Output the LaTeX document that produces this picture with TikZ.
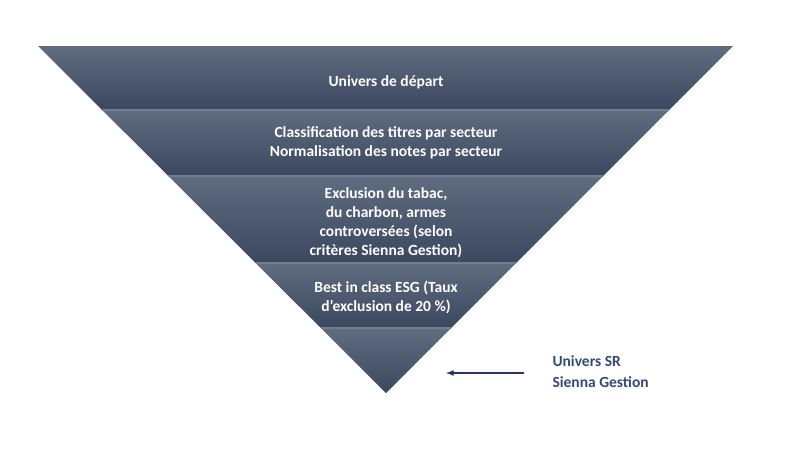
\documentclass[tikz,border=0pt]{standalone}
\usepackage{fontspec}
\setmainfont{Carlito}
\definecolor{bandtop}{HTML}{606C7F}
\definecolor{bandbot}{HTML}{3A475F}
\definecolor{bandline}{HTML}{737D8D}
\definecolor{srblue}{HTML}{34497A}
\definecolor{arrowblue}{HTML}{27365A}
\begin{document}
\begin{tikzpicture}[x=1pt, y=-1pt,
    bandtext/.style={text=white, align=center, font=\fontsize{15.5}{19}\selectfont\bfseries},
    sidetext/.style={text=srblue, align=left, anchor=west, font=\fontsize{15.5}{21}\selectfont\bfseries},
    band/.style={top color=bandtop, bottom color=bandbot, draw=none},
    arr/.style={-latex, line width=1.6pt, draw=arrowblue}]

        \useasboundingbox (0,0) rectangle (787,450);

        % ------------------ Funnel ------------------

        \begin{scope}
            \clip (38,46) -- (733,46) -- (386,393) -- cycle;
            \shade[band] (30,46) rectangle (740,110);
            \shade[band] (30,110) rectangle (740,176);
            \shade[band] (30,176) rectangle (740,263);
            \shade[band] (30,263) rectangle (740,328);
            \shade[band] (30,328) rectangle (740,394);

            % Separators
            \foreach \y in {110,176,263,328}
                \draw[bandline, line width=1.5pt] (30,\y) -- (740,\y);
        \end{scope}

        % Labels
        \node[bandtext] (depart) at (386,82) {Univers de départ};
        \node[bandtext] (secteur) at (386,143) {Classification des titres par secteur\\Normalisation des notes par secteur};
        \node[bandtext] (exclusion) at (386,223) {Exclusion du tabac,\\du charbon, armes\\controversées (selon\\critères Sienna Gestion)};
        \node[bandtext] (best) at (386,297) {Best in class ESG (Taux\\d’exclusion de 20~\%)};

        % ------------------ Univers SR ------------------

        \node[sidetext] (sr) at (549,372) {Univers SR\\Sienna Gestion};

        \coordinate (arrS) at (524,373);
        \coordinate (arrE) at (446,373);
        \draw[arr] (arrS) -- (arrE);

    \end{tikzpicture}
\end{document}
